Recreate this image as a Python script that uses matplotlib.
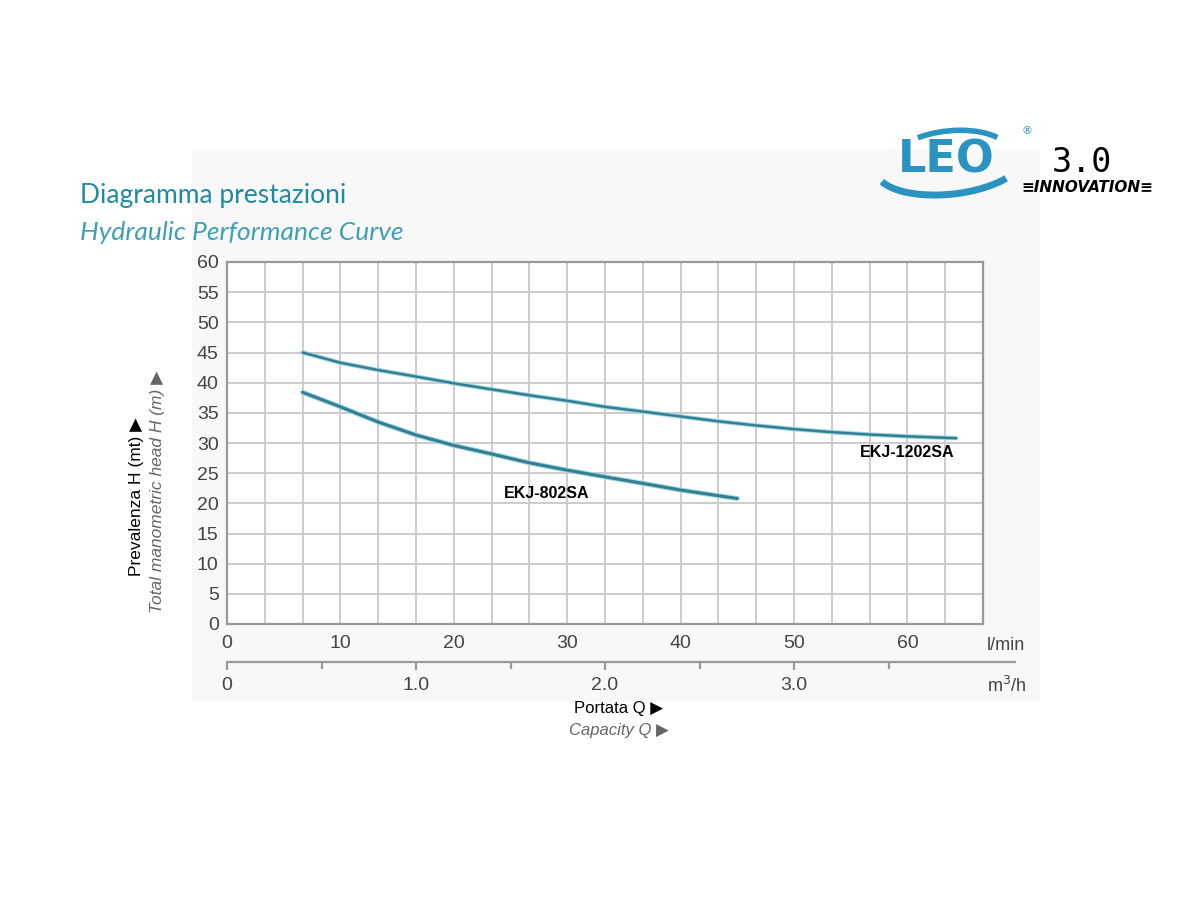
import numpy as np
import matplotlib.pyplot as plt
from matplotlib.patches import Arc

# dati (portata in l/min, prevalenza in m)
q_1202 = [6.67, 10, 13.3, 16.7, 20, 23.3, 26.7, 30, 33.3, 36.7, 40, 43.3, 46.7, 50, 53.3, 56.7, 60, 64.3]
h_1202 = [45.0, 43.3, 42.1, 41.0, 39.9, 38.9, 37.9, 37.0, 36.0, 35.2, 34.4, 33.6, 32.9, 32.3, 31.8, 31.4, 31.1, 30.8]

q_802 = [6.67, 10, 13.3, 16.7, 20, 23.3, 26.7, 30, 33.3, 36.7, 40, 45]
h_802 = [38.4, 36.0, 33.5, 31.3, 29.6, 28.2, 26.7, 25.5, 24.4, 23.3, 22.2, 20.8]

x_ticks_lmin = [0, 10, 20, 30, 40, 50, 60]
x_ticks_m3h = [0, 1.0, 2.0, 3.0]
x_minor_m3h = [0.5, 1.5, 2.5, 3.5]
y_ticks = list(range(0, 61, 5))

teal = '#367f92'
grey_txt = '#444444'
arial = 'Liberation Sans'

fig = plt.figure(figsize=(12, 9), dpi=100)
fig.patch.set_facecolor('white')

# sfondo grigio chiaro del riquadro
bg = fig.add_axes([192/1200, 1-702/900, (1040-192)/1200, (702-150)/900])
bg.set_facecolor('#f8f8f8')
bg.set_xticks([])
bg.set_yticks([])
for s in bg.spines.values():
    s.set_visible(False)
bg.set_zorder(0)

ax = fig.add_axes([227/1200, 1-624/900, (983-227)/1200, (624-262)/900])
ax.set_zorder(2)
ax.set_facecolor('white')
ax.set_xlim(0, 200/3)
ax.set_ylim(0, 60)
ax.set_xticks(np.arange(21) * 10/3, minor=True)
ax.set_xticks(x_ticks_lmin)
ax.set_yticks(y_ticks)
ax.grid(True, which='both', axis='x', color='#cccccc', lw=1.4)
ax.grid(True, which='major', axis='y', color='#cccccc', lw=1.4)
ax.tick_params(which='both', length=0)
ax.tick_params(axis='y', labelsize=14, labelcolor=grey_txt, pad=6)
ax.tick_params(axis='x', labelsize=14, labelcolor=grey_txt, pad=8)
for lab in ax.get_xticklabels() + ax.get_yticklabels():
    lab.set_family(arial)
for s in ax.spines.values():
    s.set_color('#999999')
    s.set_linewidth(1.6)

ax.plot(q_1202, h_1202, color='#9ad8e6', lw=3.2, solid_capstyle='round', zorder=3)
ax.plot(q_1202, h_1202, color=teal, lw=1.8, solid_capstyle='round', zorder=4)
ax.plot(q_802, h_802, color='#9ad8e6', lw=3.6, solid_capstyle='round', zorder=3)
ax.plot(q_802, h_802, color=teal, lw=2.2, solid_capstyle='round', zorder=4)

ax.text(60.0, 28.4, 'EKJ-1202SA', fontsize=11.5, fontweight='bold', family=arial, color='black', ha='center', va='center')
ax.text(28.2, 21.6, 'EKJ-802SA', fontsize=11.5, fontweight='bold', family=arial, color='black', ha='center', va='center')

# asse secondario m3/h
ax2 = fig.add_axes([227/1200, 1-662/900, (1015-227)/1200, 0.0001])
ax2.set_zorder(2)
ax2.set_xlim(0, (1015-227)/(756/4.0))
ax2.set_ylim(0, 1)
ax2.patch.set_alpha(0)
for k in ['top', 'left', 'right']:
    ax2.spines[k].set_visible(False)
ax2.spines['bottom'].set_color('#999999')
ax2.spines['bottom'].set_linewidth(1.6)
ax2.set_yticks([])
ax2.set_xticks(x_ticks_m3h)
ax2.set_xticklabels(['0', '1.0', '2.0', '3.0'], family=arial)
ax2.set_xticks(x_minor_m3h, minor=True)
ax2.tick_params(axis='x', which='major', length=6, width=1.6, color='#999999',
                direction='out', labelsize=14, labelcolor=grey_txt, pad=5)
ax2.tick_params(axis='x', which='minor', length=5, width=1.6, color='#999999', direction='out')

fig.text(1006/1200, 1-645/900, 'l/min', fontsize=13, family=arial, color=grey_txt, ha='center', va='center')
fig.text(1007/1200, 1-686/900, 'm$^3$/h', fontsize=13, family=arial, color=grey_txt, ha='center', va='center')

fig.text(619/1200, 1-708/900, 'Portata Q \u25B6', fontsize=12, family=[arial, 'DejaVu Sans'], color='black', ha='center', va='center')
fig.text(619/1200, 1-730/900, 'Capacity Q \u25B6', fontsize=12, family=[arial, 'DejaVu Sans'], color='#666666', style='italic', ha='center', va='center')

fig.text(137/1200, 1-497/900, 'Prevalenza H (mt) \u25B6', fontsize=12.5, family=[arial, 'DejaVu Sans'], color='black', rotation=90, ha='center', va='center')
fig.text(158/1200, 1-492/900, 'Total manometric head H (m) \u25B6', fontsize=12.5, family=[arial, 'DejaVu Sans'], color='#666666', style='italic', rotation=90, ha='center', va='center')

# titoli
fig.text(80/1200, 1-195/900, 'Diagramma prestazioni', fontsize=19, color='#1f8aa3', family='Lato', ha='left', va='center')
fig.text(80/1200, 1-232/900, 'Hydraulic Performance Curve', fontsize=19, color='#3f9fb5', family='Lato', style='italic', ha='left', va='center')

# logo
fig.text(946/1200, 1-160/900, 'LEO', fontsize=32, color='#2b93c2', fontweight='bold', ha='center', va='center')
fig.patches.append(Arc((950/1200, 1-163/900), 150/1200, 62/900, angle=10, theta1=190, theta2=330,
                       transform=fig.transFigure, color='#2b93c2', lw=5))
fig.patches.append(Arc((950/1200, 1-158/900), 120/1200, 54/900, angle=10, theta1=20, theta2=130,
                       transform=fig.transFigure, color='#2b93c2', lw=4))
fig.text(1027/1200, 1-131/900, '\u00AE', fontsize=8, color='#2b93c2', ha='center', va='center')
fig.text(1082/1200, 1-162/900, '3.0', fontsize=24, color='black', family='DejaVu Sans Mono', ha='center', va='center')
fig.text(1087/1200, 1-187/900, '\u2261INNOVATION\u2261', fontsize=11, color='black', fontweight='bold', style='italic', ha='center', va='center')

fig.savefig('out.png', dpi=100)
